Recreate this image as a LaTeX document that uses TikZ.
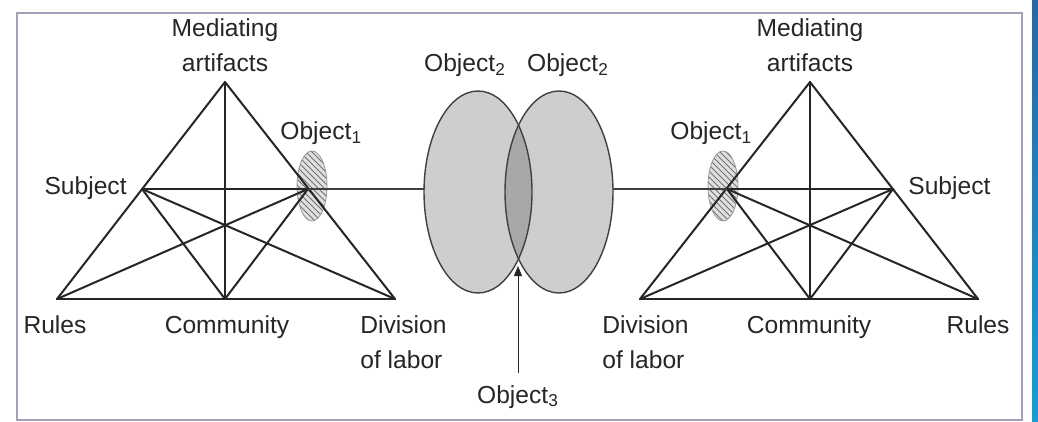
\documentclass[tikz,border=0pt]{standalone}
\usepackage{fontspec}
\setmainfont{Liberation Sans}
\usetikzlibrary{arrows.meta, positioning, shapes.geometric, patterns}
\definecolor{framegray}{RGB}{164,160,184}
\definecolor{objfill}{RGB}{206,206,206}
\definecolor{objdark}{RGB}{168,168,168}
\definecolor{stripetop}{RGB}{40,104,164}
\definecolor{stripebot}{RGB}{26,156,216}
\tikzset{
  lbl/.style={font=\fontsize{12.3}{17.5}\selectfont, inner sep=0pt, anchor=base,
              text=black!85},
  tri/.style={line width=1pt, color=black!85, line cap=round},
  bigobj/.style={ellipse, fill=objfill, minimum width=54pt, minimum height=101pt,
                 inner sep=0pt},
  objline/.style={draw=black!75, line width=0.7pt},
  smallobj/.style={ellipse, draw=black!40, line width=0.4pt,
                   preaction={fill=black!12},
                   pattern=north west lines, pattern color=black!55,
                   minimum width=15pt, minimum height=35pt, inner sep=0pt},
  link/.style={line width=1pt, color=black!75},
  pointer/.style={-{Triangle[length=5pt, width=4pt]}, line width=0.5pt, color=black!85},
}

\begin{document}
\begin{tikzpicture}[x=0.5pt, y=-0.5pt]
  \useasboundingbox (0,0) rectangle (1038,422);
  \fill[white] (0,0) rectangle (1038,422);
  \draw[framegray, line width=1pt] (17,13) rectangle (1022,420);
  \shade[top color=stripetop, bottom color=stripebot] (1032,0) rectangle (1038,422);

  % left activity system
  \coordinate (topL) at (225,82);
  \coordinate (subL) at (142,189);
  \coordinate (oL)   at (308,189);
  \coordinate (rulL) at (57,299);
  \coordinate (comL) at (225,299);
  \coordinate (divL) at (395,299);
  \node[smallobj] (o1L) at (312,186) {};

  % right activity system
  \coordinate (topR) at (810,82);
  \coordinate (subR) at (893,189);
  \coordinate (oR)   at (727,189);
  \coordinate (rulR) at (978,299);
  \coordinate (comR) at (810,299);
  \coordinate (divR) at (640,299);
  \node[smallobj] (o1R) at (723,186) {};

  \foreach \a/\b in {topL/rulL, topL/divL, rulL/divL, topL/comL, subL/oL,
                     subL/comL, subL/divL, oL/rulL, oL/comL,
                     topR/rulR, topR/divR, rulR/divR, topR/comR, subR/oR,
                     subR/comR, subR/divR, oR/rulR, oR/comR}
    \draw[tri] (\a) -- (\b);

  % shared object
  \node[bigobj] (objA) at (478,192) {};
  \node[bigobj] (objB) at (559,192) {};
  \begin{scope}
    \clip (objA.center) ellipse [x radius=54, y radius=101];
    \fill[objdark] (objB.center) ellipse [x radius=54, y radius=101];
  \end{scope}
  \draw[objline] (objA.center) ellipse [x radius=54, y radius=101];
  \draw[objline] (objB.center) ellipse [x radius=54, y radius=101];
  \coordinate (lens) at (518,266);

  \draw[link] (oL) -- (oL -| objA.west);
  \draw[link] (objB.east |- oR) -- (oR);

  % labels
  \node[lbl, align=center] (medL) at (225,72) {Mediating\\artifacts};
  \node[lbl, anchor=base east] (sublL) at (127,195) {Subject};
  \node[lbl, anchor=base west] (objlL) at (280,140) {Object\textsubscript{1}};
  \node[lbl] (rullL) at (55,333) {Rules};
  \node[lbl] (comlL) at (227,333) {Community};
  \node[lbl, anchor=base west, align=left] (divlL) at (360,368) {Division\\of labor};

  \node[lbl, align=center] (medR) at (810,72) {Mediating\\artifacts};
  \node[lbl, anchor=base west] (sublR) at (908,195) {Subject};
  \node[lbl, anchor=base west] (objlR) at (670,140) {Object\textsubscript{1}};
  \node[lbl] (rullR) at (978,333) {Rules};
  \node[lbl] (comlR) at (809,333) {Community};
  \node[lbl, anchor=base west, align=left] (divlR) at (602,368) {Division\\of labor};

  \node[lbl] (o2A) at (465,72) {Object\textsubscript{2}};
  \node[lbl] (o2B) at (568,72) {Object\textsubscript{2}};
  \node[lbl] (o3)  at (518,403) {Object\textsubscript{3}};
  \draw[pointer] ([yshift=6pt]lens |- o3.north) -- (lens);
\end{tikzpicture}
\end{document}
